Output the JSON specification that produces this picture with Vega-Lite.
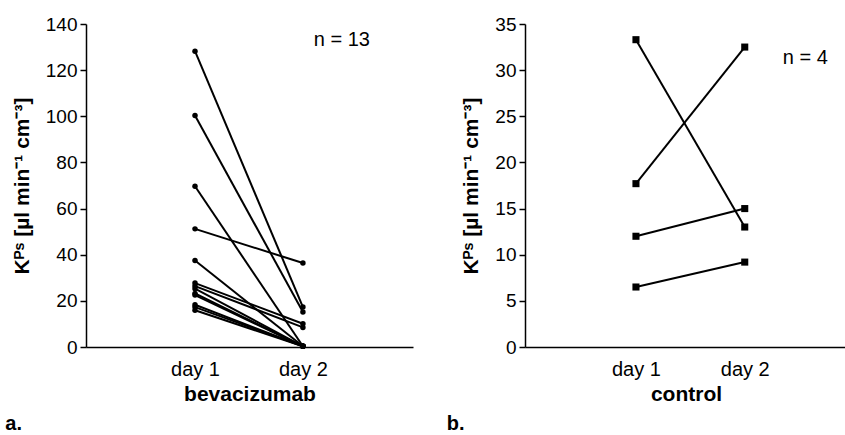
{
  "$schema": "https://vega.github.io/schema/vega-lite/v6.json",
  "background": "white",
  "padding": {"left": 5, "top": 15, "right": 0, "bottom": 5},
  "spacing": 33,
  "config": {
    "view": {"stroke": null},
    "font": "Liberation Sans",
    "axis": {
      "grid": false,
      "domainColor": "black",
      "domainWidth": 1.5,
      "tickColor": "black",
      "tickWidth": 1.5,
      "labelColor": "black",
      "titleColor": "black",
      "labelFont": "Liberation Sans",
      "titleFont": "Liberation Sans",
      "labelFontSize": 19,
      "titleFontSize": 21,
      "titleFontWeight": "bold"
    },
    "title": {"font": "Liberation Sans", "fontSize": 20, "fontWeight": "bold", "color": "black"}
  },
  "datasets": {
    "bev": [
      {"id": 1, "day": 1, "k": 128.2}, {"id": 1, "day": 2, "k": 17.3},
      {"id": 2, "day": 1, "k": 100.3}, {"id": 2, "day": 2, "k": 15.2},
      {"id": 3, "day": 1, "k": 69.7}, {"id": 3, "day": 2, "k": 0.3},
      {"id": 4, "day": 1, "k": 51.2}, {"id": 4, "day": 2, "k": 36.4},
      {"id": 5, "day": 1, "k": 37.5}, {"id": 5, "day": 2, "k": 0.3},
      {"id": 6, "day": 1, "k": 27.7}, {"id": 6, "day": 2, "k": 10.1},
      {"id": 7, "day": 1, "k": 26.4}, {"id": 7, "day": 2, "k": 8.5},
      {"id": 8, "day": 1, "k": 25.3}, {"id": 8, "day": 2, "k": 0.3},
      {"id": 9, "day": 1, "k": 23.2}, {"id": 9, "day": 2, "k": 0.3},
      {"id": 10, "day": 1, "k": 22.5}, {"id": 10, "day": 2, "k": 0.3},
      {"id": 11, "day": 1, "k": 18.3}, {"id": 11, "day": 2, "k": 0.3},
      {"id": 12, "day": 1, "k": 17.3}, {"id": 12, "day": 2, "k": 0.3},
      {"id": 13, "day": 1, "k": 15.9}, {"id": 13, "day": 2, "k": 0.3}
    ],
    "ctl": [
      {"id": 1, "day": 1, "k": 33.3}, {"id": 1, "day": 2, "k": 13.0},
      {"id": 2, "day": 1, "k": 17.7}, {"id": 2, "day": 2, "k": 32.5},
      {"id": 3, "day": 1, "k": 12.0}, {"id": 3, "day": 2, "k": 15.0},
      {"id": 4, "day": 1, "k": 6.5}, {"id": 4, "day": 2, "k": 9.2}
    ],
    "bevNote": [{"x": 2.1, "y": 130.5, "label": "n = 13"}],
    "ctlNote": [{"x": 2.35, "y": 30.7, "label": "n = 4"}]
  },
  "hconcat": [
    {
      "width": 327,
      "height": 323,
      "title": {"text": "a.", "orient": "bottom", "anchor": "start", "dx": -6, "offset": 10},
      "layer": [
        {
          "data": {"name": "bev"},
          "mark": {"type": "line", "color": "black", "strokeWidth": 2},
          "encoding": {
            "x": {"field": "day", "type": "quantitative", "scale": {"domain": [-0.01, 3.02], "nice": false, "zero": false},
              "axis": {"values": [1, 2], "labelExpr": "datum.value == 1 ? 'day 1' : 'day 2'", "ticks": false, "labelPadding": 12, "title": "bevacizumab", "titlePadding": 4, "labelFontSize": 20}},
            "y": {"field": "k", "type": "quantitative", "scale": {"domain": [0, 140], "nice": false},
              "axis": {"values": [0, 20, 40, 60, 80, 100, 120, 140], "tickSize": 6, "labelPadding": 3, "title": "Kᴾˢ [µl min⁻¹ cm⁻³]", "titlePadding": 13}},
            "detail": {"field": "id", "type": "nominal"}
          }
        },
        {
          "data": {"name": "bev"},
          "mark": {"type": "point", "shape": "circle", "filled": true, "color": "black", "size": 30, "opacity": 1},
          "encoding": {
            "x": {"field": "day", "type": "quantitative"},
            "y": {"field": "k", "type": "quantitative"}
          }
        },
        {
          "data": {"name": "bevNote"},
          "mark": {"type": "text", "align": "left", "baseline": "alphabetic", "fontSize": 20, "color": "black"},
          "encoding": {
            "x": {"field": "x", "type": "quantitative"},
            "y": {"field": "y", "type": "quantitative"},
            "text": {"field": "label"}
          }
        }
      ]
    },
    {
      "width": 322,
      "height": 323,
      "title": {"text": "b.", "orient": "bottom", "anchor": "start", "dx": -14, "offset": 10},
      "layer": [
        {
          "data": {"name": "ctl"},
          "mark": {"type": "line", "color": "black", "strokeWidth": 2},
          "encoding": {
            "x": {"field": "day", "type": "quantitative", "scale": {"domain": [-0.02, 2.94], "nice": false, "zero": false},
              "axis": {"values": [1, 2], "labelExpr": "datum.value == 1 ? 'day 1' : 'day 2'", "ticks": false, "labelPadding": 12, "title": "control", "titlePadding": 4, "labelFontSize": 20}},
            "y": {"field": "k", "type": "quantitative", "scale": {"domain": [0, 35], "nice": false},
              "axis": {"values": [0, 5, 10, 15, 20, 25, 30, 35], "tickSize": 6, "labelPadding": 3, "title": "Kᴾˢ [µl min⁻¹ cm⁻³]", "titlePadding": 13}},
            "detail": {"field": "id", "type": "nominal"}
          }
        },
        {
          "data": {"name": "ctl"},
          "mark": {"type": "point", "shape": "square", "filled": true, "color": "black", "size": 50, "opacity": 1},
          "encoding": {
            "x": {"field": "day", "type": "quantitative"},
            "y": {"field": "k", "type": "quantitative"}
          }
        },
        {
          "data": {"name": "ctlNote"},
          "mark": {"type": "text", "align": "left", "baseline": "alphabetic", "fontSize": 20, "color": "black"},
          "encoding": {
            "x": {"field": "x", "type": "quantitative"},
            "y": {"field": "y", "type": "quantitative"},
            "text": {"field": "label"}
          }
        }
      ]
    }
  ]
}
